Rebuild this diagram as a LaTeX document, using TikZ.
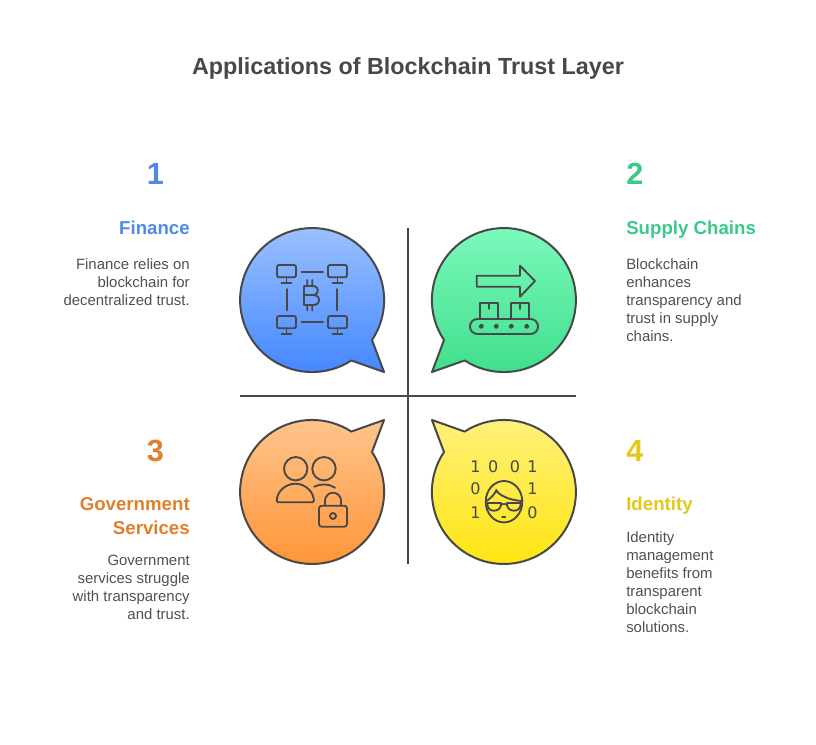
\documentclass[tikz,border=0pt]{standalone}
\usepackage{fontspec}
\setmainfont{Liberation Sans}
\newfontfamily\digitfont{DejaVu Sans}
\definecolor{ink}{HTML}{484848}
\definecolor{body}{HTML}{505050}
\definecolor{cA}{HTML}{4F8AEA}
\definecolor{cB}{HTML}{3AC98A}
\definecolor{cC}{HTML}{E07F2C}
\definecolor{cD}{HTML}{E3C71A}
\tikzset{
 px/.style={x=0.75pt,y=-0.75pt},
 bubble/.style={draw=ink,line width=1.5pt,line join=round},
 ic/.style={draw=ink,line width=1.4pt,line cap=round,line join=round,fill=none},
 cross/.style={draw=ink,line width=1.4pt},
 numlab/.style={font=\bfseries\fontsize{23}{28}\selectfont,inner sep=0pt},
 headR/.style={font=\bfseries\fontsize{14}{18}\selectfont,inner sep=0pt,align=right,anchor=north east},
 headL/.style={font=\bfseries\fontsize{14}{18}\selectfont,inner sep=0pt,align=left,anchor=north west},
 bodyR/.style={font=\fontsize{11.2}{13.5}\selectfont,text=body,inner sep=0pt,align=right,anchor=north east},
 bodyL/.style={font=\fontsize{11.2}{13.5}\selectfont,text=body,inner sep=0pt,align=left,anchor=north west},
 digit/.style={font=\digitfont\fontsize{12}{14}\selectfont,text=ink,inner sep=0pt},
}
\begin{document}
\begin{tikzpicture}[px]
\useasboundingbox (0,0) rectangle (816,744);
\node[inner sep=0pt,text=ink,font=\bfseries\fontsize{17.5}{22}\selectfont] (title) at (408,68) {Applications of Blockchain Trust Layer};
% bubbles
\path[bubble,top color={rgb,255:red,160;green,196;blue,255},bottom color={rgb,255:red,66;green,134;blue,255}]
 (372,340) arc[start angle=33.7,end angle=-303,radius=72] -- (384,372) -- cycle;
\path[bubble,top color={rgb,255:red,128;green,251;blue,190},bottom color={rgb,255:red,62;green,222;blue,140}]
 (444,340) arc[start angle=146.3,end angle=483,radius=72] -- (432,372) -- cycle;
\path[bubble,top color={rgb,255:red,255;green,197;blue,143},bottom color={rgb,255:red,255;green,146;blue,50}]
 (372,452) arc[start angle=-33.7,end angle=303,radius=72] -- (384,420) -- cycle;
\path[bubble,top color={rgb,255:red,255;green,241;blue,125},bottom color={rgb,255:red,255;green,228;blue,10}]
 (444,452) arc[start angle=-146.3,end angle=-483,radius=72] -- (432,420) -- cycle;
% cross
\coordinate (vt) at (408,228); \coordinate (vb) at (408,564);
\coordinate (hl) at (240,396); \coordinate (hr) at (576,396);
\draw[cross] (vt) -- (vb);
\draw[cross] (hl) -- (hr);
% icon 1
\foreach \x/\y in {277/265,328/265,277/316,328/316}{
 \draw[ic,rounded corners=1.5pt] (\x,\y) rectangle ++(19,12.3);
 \draw[ic] (\x+9.5,\y+12.3) -- ++(0,5.7) (\x+4.5,\y+18) -- ++(10,0);
}
\draw[ic] (301.5,271.7) -- (323,271.7) (301.5,322.3) -- (323,322.3) (286.7,289) -- (286.7,310.5) (337.3,289) -- (337.3,310.5);
\draw[ic] (304,286) -- (304,305) (304,286) -- (313,286) .. controls (319.5,286) and (319.5,295) .. (313,295) -- (304,295)
 (313,295) .. controls (321.5,295) and (321.5,305) .. (313,305) -- (304,305)
 (307.3,280) -- (307.3,286) (312.3,280) -- (312.3,286) (307.3,305) -- (307.3,310.5) (312.3,305) -- (312.3,310.5);
% icon 2
\draw[ic] (476.7,275.7) -- (520,275.7) -- (520,265.7) -- (535,281) -- (520,296.7) -- (520,286.7) -- (476.7,286.7) -- cycle;
\draw[ic] (480.3,319) -- (480.3,302.7) -- (497.7,302.7) -- (497.7,319) (489,302.7) -- (489,309);
\draw[ic] (511.3,319) -- (511.3,302.7) -- (529.3,302.7) -- (529.3,319) (520,302.7) -- (520,309);
\draw[ic,rounded corners=5.5pt] (470,319) rectangle (538,334);
\foreach \x in {481.3,496.3,511.3,526.7} \draw[ic] (\x,326.3) circle[radius=1.7];
% icon 3
\draw[ic] (295.7,468.7) circle[radius=11.7];
\draw[ic] (324,468.7) circle[radius=11.7];
\draw[ic,rounded corners=1pt] (276.7,502.3) arc[start angle=180,end angle=360,radius=18.6] -- cycle;
\draw[ic] (314.3,486.7) .. controls (320,483.5) and (329,483.5) .. (335,487.7);
\draw[ic,rounded corners=2pt] (319,505.7) rectangle (347,526.7);
\draw[ic] (325,505.7) -- (325,500.7) arc[start angle=180,end angle=360,radius=8] -- (341,505.7);
\draw[ic] (333,516) circle[radius=3];
% icon 4
\foreach \n/\x/\y/\t in {a/475.5/466.7/1,b/493.3/466.7/0,c/515/466.7/0,d/532.5/466.7/1,e/475.5/488.3/0,f/532.5/488.3/1,g/475.5/512.3/1,h/532.5/512.3/0}
 \node[digit] (dg\n) at (\x,\y) {\t};
\draw[ic] (504,501.7) ellipse[x radius=18.3,y radius=20.7];
\draw[ic] (486.5,501) .. controls (491,498) and (495,494) .. (496.3,490) .. controls (498,495) and (510,500.5) .. (522.3,501);
\draw[ic] (487.3,503) -- (501,503) .. controls (501.5,508) and (498,510.7) .. (494,510.7) .. controls (490,510.7) and (487,508) .. (487.3,503);
\draw[ic] (520.7,503) -- (507,503) .. controls (506.5,508) and (510,510.7) .. (514,510.7) .. controls (518,510.7) and (521,508) .. (520.7,503);
\draw[ic] (501,504.5) .. controls (503,503.7) and (505,503.7) .. (507,504.5);
\draw[ic] (502,517.3) -- (505.3,517.3);
% text
\node[numlab,text=cA] (n1) at (155.5,174) {1};
\node[numlab,text=cB] (n2) at (635,174) {2};
\node[numlab,text=cC] (n3) at (155.5,451) {3};
\node[numlab,text=cD] (n4) at (635,451) {4};
\node[headR,text=cA] (h1) at (190,220.5) {Finance};
\node[headL,text=cB] (h2) at (626,220.5) {Supply Chains};
\node[headR,text=cC] (h3) at (190,497) {Government\\Services};
\node[headL,text=cD] (h4) at (626,496.5) {Identity};
\node[bodyR] (b1) at (190,258) {Finance relies on\\blockchain for\\decentralized trust.};
\node[bodyL] (b2) at (626,258) {Blockchain\\enhances\\transparency and\\trust in supply\\chains.};
\node[bodyR] (b3) at (190,555) {Government\\services struggle\\with transparency\\and trust.};
\node[bodyL] (b4) at (626,531) {Identity\\management\\benefits from\\transparent\\blockchain\\solutions.};
\end{tikzpicture}
\end{document}
